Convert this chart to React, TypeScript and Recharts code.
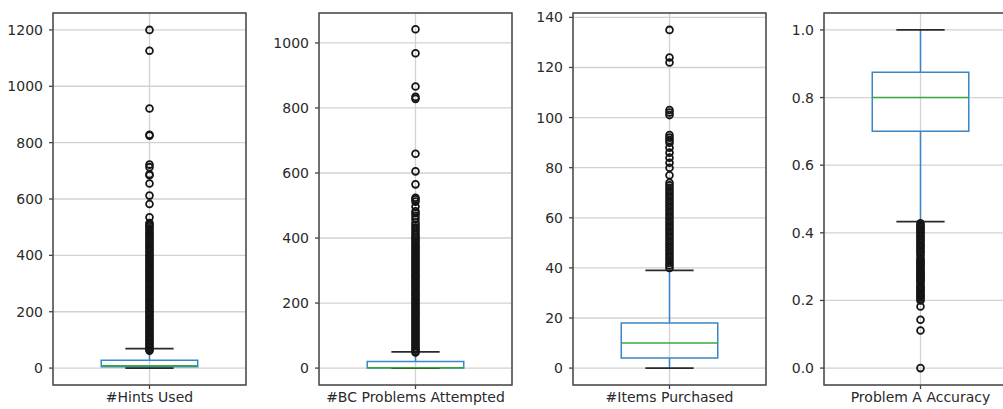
import { ScatterChart, Scatter, XAxis, YAxis, CartesianGrid, ReferenceArea, ReferenceLine } from "recharts"

const labels = ["#Hints Used", "#BC Problems Attempted", "#Items Purchased", "Problem A Accuracy"]

// five-number summaries: [lower whisker, q1, median, q3, upper whisker]
const hintsBox = [0, 5, 8, 28, 69]
const bcBox = [0, 0, 1, 20, 50]
const itemsBox = [0, 4, 10, 18, 39]
const accBox = [0.433, 0.7, 0.8, 0.875, 1.0]

const hintsOut = [62, 66, 71, 76, 83, 88, 95, 100, 107, 113, 120, 126, 132, 139, 145, 152, 158, 165, 171, 178, 184, 190, 197, 203, 210, 216, 223, 229, 236, 242, 248, 255, 262, 268, 274, 281, 287, 294, 300, 307, 313, 320, 326, 333, 340, 346, 352, 359, 365, 372, 378, 385, 391, 398, 404, 411, 417, 424, 430, 437, 443, 450, 456, 463, 470, 476, 482, 489, 496, 503, 509, 515, 535, 582, 612, 655, 684, 688, 713, 722, 825, 828, 921, 1126, 1200]
const bcOut = [48, 52, 57, 62, 68, 73, 79, 85, 90, 96, 102, 108, 113, 119, 125, 131, 137, 142, 148, 154, 160, 166, 171, 177, 183, 189, 195, 200, 206, 212, 218, 224, 229, 235, 241, 247, 253, 258, 264, 270, 276, 282, 287, 293, 299, 305, 311, 316, 322, 328, 334, 340, 345, 351, 357, 363, 369, 374, 380, 386, 392, 398, 404, 410, 418, 425, 432, 440, 447, 458, 468, 476, 482, 497, 512, 519, 524, 565, 605, 659, 828, 834, 866, 968, 1042]
const itemsOut = [40, 41, 42, 43, 44, 45, 46, 47, 48, 49, 50, 51, 52, 53, 54, 55, 56, 57, 58, 59, 60, 61, 62, 63, 64, 65, 66, 67, 68, 69, 70, 71, 72, 73, 74, 77, 80, 82, 84, 86, 88, 90, 91, 92, 93, 101, 102, 103, 122, 124, 135]
const accOut = [0.428, 0.423, 0.419, 0.414, 0.41, 0.405, 0.4, 0.395, 0.39, 0.385, 0.38, 0.375, 0.37, 0.364, 0.36, 0.355, 0.35, 0.345, 0.34, 0.333, 0.325, 0.32, 0.316, 0.312, 0.308, 0.304, 0.3, 0.294, 0.29, 0.286, 0.28, 0.278, 0.273, 0.27, 0.267, 0.263, 0.26, 0.256, 0.25, 0.243, 0.24, 0.235, 0.231, 0.227, 0.222, 0.217, 0.214, 0.21, 0.205, 0.2, 0.182, 0.143, 0.111, 0]

const hintsTicks = [0, 200, 400, 600, 800, 1000, 1200]
const bcTicks = [0, 200, 400, 600, 800, 1000]
const itemsTicks = [0, 20, 40, 60, 80, 100, 120, 140]
const accTicks = [0, 0.2, 0.4, 0.6, 0.8, 1.0]

const panels = [
  { left: 53, label: labels[0], box: hintsBox, out: hintsOut, ticks: hintsTicks, domain: [-60, 1260], fmt: (v: number) => String(v) },
  { left: 319, label: labels[1], box: bcBox, out: bcOut, ticks: bcTicks, domain: [-52, 1092], fmt: (v: number) => String(v) },
  { left: 573, label: labels[2], box: itemsBox, out: itemsOut, ticks: itemsTicks, domain: [-6.75, 141.75], fmt: (v: number) => String(v) },
  { left: 824, label: labels[3], box: accBox, out: accOut, ticks: accTicks, domain: [-0.05, 1.05], fmt: (v: number) => v.toFixed(1) },
]

const font = "DejaVu Sans, sans-serif"
const tickStyle = { fontSize: 14, fill: "#2a2a2a", fontFamily: font }

const Ring = (p: any) => <circle cx={p.cx} cy={p.cy} r={3.4} fill="none" stroke="#151515" strokeWidth={1.8} />

function BoxPanel({ p }: { p: typeof panels[number] }) {
  const [lo, q1, med, q3, hi] = p.box
  const pts = p.out.map(v => ({ x: 1, y: v }))
  return (
    <div style={{ position: "absolute", left: p.left - 50, top: 0 }}>
      <ScatterChart width={50 + 193 + 2} height={409} margin={{ top: 13, right: 2, bottom: 0, left: 0 }}>
        <CartesianGrid stroke="#d2d2d2" strokeWidth={1.3} />
        <XAxis type="number" dataKey="x" domain={[0.5, 1.5]} ticks={[1]} tickFormatter={() => p.label} axisLine={false}
          tickLine={{ stroke: "#444", strokeWidth: 1.3 }} tickSize={4} tickMargin={3} height={24} tick={tickStyle} interval={0} />
        <YAxis type="number" dataKey="y" domain={p.domain} ticks={p.ticks} tickFormatter={p.fmt} axisLine={false}
          tickLine={{ stroke: "#444", strokeWidth: 1.3 }} tickSize={4} tickMargin={6} width={50} tick={tickStyle} interval={0} allowDataOverflow />
        <ReferenceArea x1={0.5} x2={1.5} y1={p.domain[0]} y2={p.domain[1]} fill="none" stroke="#4a4a4a" strokeWidth={1.5} fillOpacity={0} />
        <ReferenceLine segment={[{ x: 1, y: q3 }, { x: 1, y: hi }]} stroke="#3a86c8" strokeWidth={1.5} />
        <ReferenceLine segment={[{ x: 1, y: lo }, { x: 1, y: q1 }]} stroke="#3a86c8" strokeWidth={1.5} />
        <ReferenceArea x1={0.75} x2={1.25} y1={q1} y2={q3} fill="none" fillOpacity={0} stroke="#3a86c8" strokeWidth={1.5} />
        <ReferenceLine segment={[{ x: 0.875, y: hi }, { x: 1.125, y: hi }]} stroke="#2a2a2a" strokeWidth={1.6} />
        <ReferenceLine segment={[{ x: 0.875, y: lo }, { x: 1.125, y: lo }]} stroke="#2a2a2a" strokeWidth={1.6} />
        <ReferenceLine segment={[{ x: 0.75, y: med }, { x: 1.25, y: med }]} stroke="#3aa83a" strokeWidth={1.5} />
        <Scatter data={pts} shape={Ring} isAnimationActive={false} />
      </ScatterChart>
    </div>
  )
}

export default function App() {
  return (
    <div style={{ position: "absolute", left: 0, top: 0, width: 1003, height: 409, overflow: "hidden", background: "#fff", fontFamily: font }}>
      {panels.map(p => <BoxPanel key={p.label} p={p} />)}
    </div>
  )
}
